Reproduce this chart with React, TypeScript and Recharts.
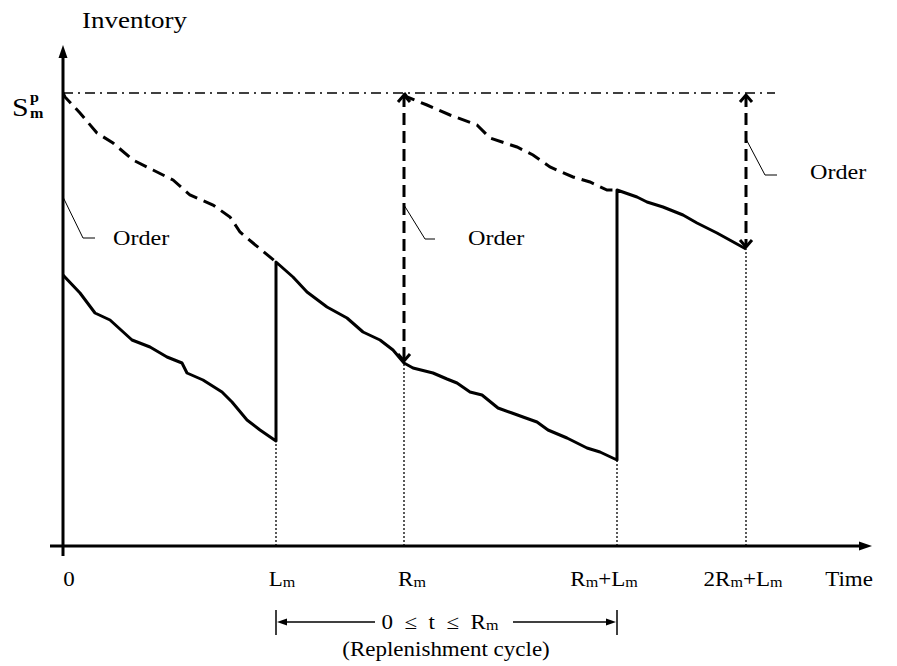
import React from 'react';
import { LineChart, Line, XAxis, YAxis, ReferenceLine, ReferenceDot } from 'recharts';

const FONT = '"Liberation Serif", "Times New Roman", Times, serif';
const SX = 1.15;

// ---------- data (schematic time units / inventory units) ----------
const timeTicks = [0, 213, 341, 554, 683, 786];
const timeLabels = ['0', 'L_m', 'R_m', 'R_m+L_m', '2R_m+L_m', 'Time'];
const orderUpToLevel = 453;
const levelTicks = [453];

const solidInventory: [number, number][] = [
  [0, 271], [17, 253], [32, 233], [47, 226], [69, 206], [87, 199], [104, 189], [119, 183],
  [124, 173], [140, 166], [159, 154], [169, 144], [184, 126], [197, 116], [213, 105],
  [213, 284], [230, 269], [244, 254], [264, 239], [284, 228], [300, 214], [317, 206], [330, 196],
  [341, 183], [350, 178], [370, 173], [384, 167], [394, 163], [407, 154], [419, 151], [435, 138],
  [449, 133], [460, 129], [474, 124], [485, 116], [504, 108], [524, 98], [537, 94], [554, 86],
  [554, 356], [574, 349], [584, 344], [600, 339], [620, 331], [634, 323], [654, 313], [683, 297],
];
const inventoryPosition1: [number, number][] = [
  [0, 453], [2, 449], [17, 433], [34, 413], [50, 403], [70, 386], [90, 376], [110, 366],
  [127, 351], [150, 341], [167, 329], [177, 314], [190, 303], [213, 284],
];
const inventoryPosition2: [number, number][] = [
  [341, 453], [344, 449], [364, 441], [387, 431], [414, 421], [427, 408], [454, 399],
  [470, 391], [487, 379], [510, 369], [527, 364], [544, 356], [550, 356],
];
const dropTimes = [213, 341, 554, 683];
const dropLevels = [105, 183, 86, 297];
const orderTimes = [341, 683];
const orderToLevels = [183, 297];
const leaderTimes = [0, 341, 683];
const leaderLevels = [349, 341, 407];
const leaderText = 'Order';
const cycleStart = 213;
const cycleEnd = 554;
const cycleLevel = -76;
const cycleText = '0\u00a0\u00a0≤\u00a0\u00a0t\u00a0\u00a0≤\u00a0\u00a0R_m';
const cycleCaption = '(Replenishment cycle)';
const yTitle = 'Inventory';

const toPts = (a: [number, number][]) => a.map(([t, v]) => ({ t, v }));

// ---------- layout constants ----------
const LABEL_DX = [6, 6, 8, -13, -3, 0];
const LEADER_LAYOUT = [
  { dx: 20, dy: 41, h: 12, tx: 18, by: 7 },
  { dx: 21, dy: 34, h: 10, tx: 33, by: 6 },
  { dx: 19, dy: 36, h: 12, tx: 33, by: 4 },
];

function renderSub(label: string, base: number, sub: number) {
  const parts = label.split(/(_m)/).filter(Boolean);
  return parts.map((p, k) =>
    p === '_m' ? (
      <tspan key={k} fontSize={sub} dy={1}>m</tspan>
    ) : (
      <tspan key={k} fontSize={base} dy={k > 0 && parts[k - 1] === '_m' ? -1 : 0}>{p}</tspan>
    )
  );
}

function TimeTick(props: any) {
  const { x, y, payload } = props;
  const i = timeTicks.indexOf(payload.value);
  if (i < 0) return null;
  return (
    <text
      transform={`translate(${x + LABEL_DX[i]},${y + 40}) scale(${SX},1)`}
      textAnchor="middle"
      fontFamily={FONT}
      fill="#000"
    >
      {renderSub(timeLabels[i], 20, 14)}
    </text>
  );
}

function LevelTick(props: any) {
  const { x, y } = props;
  return (
    <g fontFamily={FONT} fill="#000">
      <text transform={`translate(${x - 51},${y + 23}) scale(${SX},1)`} fontSize={26}>S</text>
      <text transform={`translate(${x - 33},${y + 9}) scale(${SX},1)`} fontSize={14} fontWeight="bold">p</text>
      <text transform={`translate(${x - 33},${y + 25}) scale(${SX},1)`} fontSize={14} fontWeight="bold">m</text>
    </g>
  );
}

function AxisArrow(props: any) {
  const { x1, y1, x2, y2 } = props;
  const dx = x2 - x1, dy = y2 - y1;
  const len = Math.hypot(dx, dy) || 1;
  const ux = dx / len, uy = dy / len;
  const hl = 13, hw = 4.5;
  const bx = x2 - ux * hl, by = y2 - uy * hl;
  return (
    <g>
      <line x1={x1} y1={y1} x2={bx + ux * 2} y2={by + uy * 2} stroke="#000" strokeWidth={3} />
      <polygon
        points={`${x2},${y2} ${bx - uy * hw},${by + ux * hw} ${bx + uy * hw},${by - ux * hw}`}
        fill="#000"
      />
    </g>
  );
}

function OrderArrow(props: any) {
  const { x1, y1, x2, y2 } = props;
  const top = Math.min(y1, y2), bot = Math.max(y1, y2);
  const x = x1;
  return (
    <g stroke="#000" strokeWidth={3} fill="none">
      <line x1={x} y1={top + 2} x2={x2} y2={bot - 2} strokeDasharray="12 6" />
      <polyline points={`${x - 6},${top + 9} ${x},${top + 2} ${x + 6},${top + 9}`} strokeLinejoin="miter" />
      <polyline points={`${x - 6},${bot - 9} ${x},${bot - 2} ${x + 6},${bot - 9}`} strokeLinejoin="miter" />
    </g>
  );
}

function CycleBracket(props: any) {
  const { x1, y1, x2 } = props;
  const y = y1;
  const cx = 440;
  return (
    <g>
      <line x1={x1} y1={y - 12} x2={x1} y2={y + 13} stroke="#000" strokeWidth={1.5} />
      <line x1={x2} y1={y - 12} x2={x2} y2={y + 13} stroke="#000" strokeWidth={1.5} />
      <line x1={x1 + 8} y1={y} x2={375} y2={y} stroke="#000" strokeWidth={1.5} />
      <line x1={513} y1={y} x2={x2 - 8} y2={y} stroke="#000" strokeWidth={1.5} />
      <polygon points={`${x1 + 1},${y} ${x1 + 11},${y - 3.5} ${x1 + 11},${y + 3.5}`} fill="#000" />
      <polygon points={`${x2 - 1},${y} ${x2 - 11},${y - 3.5} ${x2 - 11},${y + 3.5}`} fill="#000" />
      <text
        transform={`translate(${cx},${y + 7}) scale(${SX},1)`}
        textAnchor="middle"
        fontFamily={FONT}
        fill="#000"
      >
        {renderSub(cycleText, 20, 14)}
      </text>
      <text
        transform={`translate(446,${y + 34}) scale(${SX},1)`}
        textAnchor="middle"
        fontFamily={FONT}
        fontSize={20}
        fill="#000"
      >
        {cycleCaption}
      </text>
    </g>
  );
}

function makeLeader(i: number) {
  return (props: any) => {
    const { cx, cy } = props;
    const L = LEADER_LAYOUT[i];
    const ex = cx + L.dx, ey = cy + L.dy;
    return (
      <g>
        <polyline
          points={`${cx},${cy} ${ex},${ey} ${ex + L.h},${ey}`}
          fill="none"
          stroke="#000"
          strokeWidth={1}
        />
        <text
          transform={`translate(${ex + L.h + L.tx},${ey + L.by}) scale(${SX},1)`}
          fontFamily={FONT}
          fontSize={21}
          fill="#000"
        >
          {leaderText}
        </text>
      </g>
    );
  };
}

function TitleDot(props: any) {
  const { cx, cy } = props;
  return (
    <text
      transform={`translate(${cx + 19},${cy - 17}) scale(${SX},1)`}
      fontFamily={FONT}
      fontSize={23.5}
      fill="#000"
    >
      {yTitle}
    </text>
  );
}

export default function App() {
  return (
    <div style={{ position: 'absolute', left: 0, top: 0, background: '#fff' }}>
      <LineChart width={897} height={666} margin={{ top: 45, right: 24, bottom: 90, left: 0 }}>
        <XAxis
          type="number"
          dataKey="t"
          domain={[0, 810]}
          allowDataOverflow
          ticks={timeTicks}
          tick={<TimeTick />}
          tickLine={false}
          axisLine={false}
          tickSize={0}
          tickMargin={0}
          height={30}
          interval={0}
        />
        <YAxis
          type="number"
          dataKey="v"
          domain={[0, 501]}
          allowDataOverflow
          ticks={levelTicks}
          tick={<LevelTick />}
          tickLine={false}
          axisLine={false}
          tickSize={0}
          tickMargin={0}
          width={63}
          interval={0}
        />

        {dropTimes.map((t, i) => (
          <ReferenceLine
            key={`drop${i}`}
            segment={[{ x: t, y: 0 }, { x: t, y: dropLevels[i] }]}
            stroke="#000"
            strokeWidth={1.3}
            strokeDasharray="2 2"
            ifOverflow="visible"
          />
        ))}

        <ReferenceLine
          segment={[{ x: 0, y: orderUpToLevel }, { x: 712, y: orderUpToLevel }]}
          stroke="#000"
          strokeWidth={1.3}
          strokeDasharray="10 5 2 5"
          ifOverflow="visible"
        />

        <Line
          data={toPts(inventoryPosition1)}
          dataKey="v"
          type="linear"
          stroke="#000"
          strokeWidth={3}
          strokeDasharray="13 7"
          dot={false}
          activeDot={false}
          isAnimationActive={false}
        />
        <Line
          data={toPts(inventoryPosition2)}
          dataKey="v"
          type="linear"
          stroke="#000"
          strokeWidth={3}
          strokeDasharray="13 7"
          dot={false}
          activeDot={false}
          isAnimationActive={false}
        />
        <Line
          data={toPts(solidInventory)}
          dataKey="v"
          type="linear"
          stroke="#000"
          strokeWidth={3}
          strokeLinejoin="round"
          dot={false}
          activeDot={false}
          isAnimationActive={false}
        />

        {orderTimes.map((t, i) => (
          <ReferenceLine
            key={`order${i}`}
            segment={[{ x: t, y: orderUpToLevel }, { x: t, y: orderToLevels[i] }]}
            shape={OrderArrow}
            ifOverflow="visible"
          />
        ))}

        {leaderTimes.map((t, i) => (
          <ReferenceDot
            key={`lead${i}`}
            x={t}
            y={leaderLevels[i]}
            r={0}
            shape={makeLeader(i)}
            ifOverflow="visible"
          />
        ))}

        <ReferenceLine
          segment={[{ x: -13, y: 0 }, { x: 809, y: 0 }]}
          shape={AxisArrow}
          ifOverflow="visible"
        />
        <ReferenceLine
          segment={[{ x: 0, y: -10 }, { x: 0, y: 501 }]}
          shape={AxisArrow}
          ifOverflow="visible"
        />

        <ReferenceDot x={0} y={501} r={0} shape={TitleDot} ifOverflow="visible" />

        <ReferenceLine
          segment={[{ x: cycleStart, y: cycleLevel }, { x: cycleEnd, y: cycleLevel }]}
          shape={CycleBracket}
          ifOverflow="visible"
        />
      </LineChart>
    </div>
  );
}
